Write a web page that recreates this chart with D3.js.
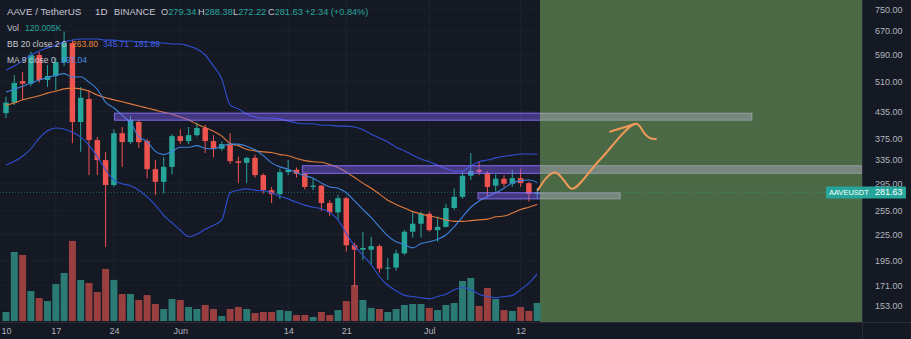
<!DOCTYPE html>
<html>
<head>
<meta charset="utf-8">
<script src="https://cdn.jsdelivr.net/npm/d3@7"></script>
<style>
  html, body { margin: 0; padding: 0; background: #151924; }
  svg { display: block; }
  text { font-family: "Liberation Sans", Arial, sans-serif; }
</style>
</head>
<body>
<svg id="chart" width="911" height="339"></svg>
<script>
// AAVE / TetherUS daily candles, 11 May – 14 Jul 2021
const firstDay = "2021-05-11T00:00:00Z";
const dayAfterLast = "2021-07-15T00:00:00Z";

const opens  = [431,456,512,505,589,515,526,567,628,411,465,373,335,293,387,369,411,371,319,298,323,381,371,383,398,371,356,365,333,330,339,309,285,279,314,318,311,290,292,266,253,273,212,207,207,211,187,188,203,228,238,251,230,234,259,275,308,318,313,292,303,295,304,296,279.34];
const highs  = [471,529,538,600,600,558,580,668,640,496,488,379,350,395,400,425,416,375,335,340,385,395,400,410,405,383,370,387,341,341,345,312,290,320,335,322,313,304,293,270,278,275,215,228,222,213,198,207,230,253,254,254,247,265,288,314,348,332,316,310,309,318,320,298,288.38];
const lows   = [420,450,462,498,508,496,488,555,367,350,309,309,210,290,323,365,358,304,278,280,310,365,365,380,348,340,352,328,296,296,305,280,266,272,309,305,286,285,255,248,243,205,170,196,191,183,176,185,201,221,221,228,216,233,256,272,301,309,275,283,290,290,290,268,272.22];
const closes = [456,507,505,589,515,526,567,628,411,468,373,335,293,387,369,416,369,319,298,323,381,371,383,398,371,356,365,333,330,339,309,285,279,314,318,311,290,292,266,253,273,212,207,209,211,187,188,203,228,238,251,230,234,259,275,308,316,314,290,303,295,304,296,279.29,281.63];
// volume in thousands of AAVE
const volumes = [60,460,440,200,153,133,247,320,534,274,253,193,347,274,180,180,140,173,113,80,147,140,93,80,107,80,33,80,93,80,53,60,60,73,67,40,40,27,60,40,73,133,240,140,87,80,60,80,107,113,113,87,73,107,120,267,287,100,220,147,73,67,93,67,120.005];

// Bollinger Bands (20, 2) and 9-day moving average
const bbUpper = [543,555,571,589,602,612,621,632,638,642,642,642,638,638,635,635,632,632,628,628,625,625,618,608,589,555,518,450,441,429,422,420,420,418,413,409,407,407,404,404,402,402,400,394,385,377,369,359,352,344,337,332,326,320,316,316,325,332,335,339,342,344,346,346,345.71];
const bbBasis = [450,455,463,468,473,480,485,491,493,491,485,475,468,463,458,453,448,443,438,433,429,422,416,406,399,391,381,366,362,355,352,350,349,345,343,338,334,332,331,327,322,314,305,296,288,279,270,264,259,254,251,248,246,243,241,241,242,243,244,247,248,252,257,260,263.80];
const bbLower = [326,333,342,356,377,392,398,396,389,379,363,341,318,301,295,292,285,275,263,249,239,230,222,225,231,236,243,281,285,287,285,284,281,276,272,267,263,260,258,253,243,226,211,201,191,179,171,166,162,161,160,159,161,163,167,169,167,163,161,160,161,162,167,173,181.89];
const ma9     = [483,490,498,507,515,522,528,533,523,524,509,490,457,443,426,409,380,370,351,345,351,359,359,362,357,356,361,365,365,361,354,343,330,323,319,313,308,304,296,290,288,281,269,257,246,234,223,216,213,209,214,216,219,224,234,247,260,269,275,281,288,296,300,301,297.04];

// axis ticks
const priceTicks = [750,670,590,510,435,375,335,295,255,225,195,171,153];
const dateTicks = ["2021-05-10","2021-05-17","2021-05-24","2021-06-01","2021-06-14","2021-06-21","2021-07-01","2021-07-12"];
const dateTickLabels = ["10","17","24","Jun","14","21","Jul","12"];

// drawn price zones
const zoneStarts = ["2021-05-24T02:00:00Z","2021-06-15T17:00:00Z","2021-07-06T21:00:00Z"];
const zoneEnds   = ["2021-08-08T21:00:00Z","2021-08-31T00:00:00Z","2021-07-24T00:00:00Z"];
const zoneLows   = [415, 312, 272];
const zoneHighs  = [431, 325, 281];

// projection period and hand-drawn path
const forecastStart = "2021-07-14T08:00:00Z";
const forecastEnd   = "2021-08-31T00:00:00Z";
const pathTimes  = ["2021-07-14T02:00:00Z","2021-07-15T02:00:00Z","2021-07-15T22:00:00Z","2021-07-16T12:00:00Z","2021-07-17T07:00:00Z","2021-07-18T05:00:00Z","2021-07-21T14:00:00Z","2021-07-25T22:00:00Z","2021-07-27T00:00:00Z","2021-07-27T14:00:00Z","2021-07-28T07:00:00Z"];
const pathPrices = [285, 304, 313, 311, 299, 287, 336, 407, 385, 377, 375];
const headTimes  = ["2021-07-22T19:00:00Z","2021-07-24T05:00:00Z","2021-07-25T22:00:00Z"];
const headPrices = [390, 398, 407];

// ---------------------------------------------------------------
const W = 911, H = 339, plotR = 862, plotB = 322;
const UP = "#26a69a", DOWN = "#ef5350";
const svg = d3.select("#chart");

const dates = d3.utcDay.range(new Date(firstDay), new Date(dayAfterLast));
const x = d3.scaleUtc()
  .domain([new Date("2021-05-10T06:40:00Z"), new Date("2021-08-22T03:10:00Z")])
  .range([0, plotR]);
const y = d3.scaleLog().domain([153, 750]).range([306, 10]);
const yVol = d3.scaleLinear().domain([0, 600]).range([321, 231]);
const dayW = x(dates[1]) - x(dates[0]);
const xSplit = x(new Date(forecastStart));

svg.append("rect").attr("width", W).attr("height", H).attr("fill", "#151924");

const defs = svg.append("defs");
defs.append("clipPath").attr("id", "plot")
  .append("rect").attr("width", plotR).attr("height", plotB);
defs.append("clipPath").attr("id", "history")
  .append("rect").attr("width", xSplit).attr("height", plotB);
defs.append("clipPath").attr("id", "future")
  .append("rect").attr("x", xSplit).attr("width", plotR - xSplit).attr("height", plotB);
const plot = svg.append("g").attr("clip-path", "url(#plot)");

// grid
plot.append("g").selectAll("line").data(priceTicks).join("line")
  .attr("x1", 0).attr("x2", plotR)
  .attr("y1", d => y(d)).attr("y2", d => y(d))
  .attr("stroke", "#1c2130").attr("stroke-width", 1);
plot.append("g").selectAll("line").data(dateTicks).join("line")
  .attr("x1", d => x(new Date(d))).attr("x2", d => x(new Date(d)))
  .attr("y1", 0).attr("y2", plotB)
  .attr("stroke", "#1c2130").attr("stroke-width", 1);

// projection period background
plot.append("rect")
  .attr("x", xSplit)
  .attr("width", x(new Date(forecastEnd)) - xSplit)
  .attr("y", 0).attr("height", plotB)
  .attr("fill", "#4c6946");

// volume
const isUp = i => closes[i] >= opens[i];
plot.append("g").selectAll("rect").data(volumes).join("rect")
  .attr("x", (d, i) => x(dates[i]) - dayW * 0.42)
  .attr("width", dayW * 0.84)
  .attr("y", d => yVol(d))
  .attr("height", d => yVol(0) - yVol(d))
  .attr("fill", (d, i) => isUp(i) ? "#2b7a73" : "#9a3f40");

// last-price line
const last = closes.length - 1;
plot.append("line")
  .attr("x1", 0).attr("x2", plotR)
  .attr("y1", y(closes[last])).attr("y2", y(closes[last]))
  .attr("stroke", UP).attr("stroke-opacity", 0.55)
  .attr("stroke-dasharray", "1,2");

// candles
const bodyW = dayW * 0.66;
const candles = plot.append("g").selectAll("g").data(closes).join("g");
candles.append("line")
  .attr("x1", (d, i) => x(dates[i])).attr("x2", (d, i) => x(dates[i]))
  .attr("y1", (d, i) => y(highs[i])).attr("y2", (d, i) => y(lows[i]))
  .attr("stroke", (d, i) => isUp(i) ? UP : DOWN).attr("stroke-width", 1);
candles.append("rect")
  .attr("x", (d, i) => x(dates[i]) - bodyW / 2)
  .attr("width", bodyW)
  .attr("y", (d, i) => y(Math.max(opens[i], closes[i])))
  .attr("height", (d, i) => Math.max(1, Math.abs(y(opens[i]) - y(closes[i]))))
  .attr("fill", (d, i) => isUp(i) ? UP : DOWN);

// indicator lines
const lineOf = vals => d3.line().x((d, i) => x(dates[i])).y(d => y(d)).curve(d3.curveMonotoneX)(vals);
plot.append("path").attr("d", lineOf(bbUpper)).attr("fill", "none").attr("stroke", "#2f50d4").attr("stroke-width", 1.1);
plot.append("path").attr("d", lineOf(bbLower)).attr("fill", "none").attr("stroke", "#2f50d4").attr("stroke-width", 1.1);
plot.append("path").attr("d", lineOf(bbBasis)).attr("fill", "none").attr("stroke", "#e07b3c").attr("stroke-width", 1.1);
plot.append("path").attr("d", lineOf(ma9)).attr("fill", "none").attr("stroke", "#3d83dc").attr("stroke-width", 1.1);

// price zones: violet over the history, grey over the projection period
function drawZones(clipId, fill, stroke) {
  plot.append("g").attr("clip-path", `url(#${clipId})`)
    .selectAll("rect").data(zoneLows).join("rect")
    .attr("x", (d, i) => x(new Date(zoneStarts[i])))
    .attr("width", (d, i) => x(new Date(zoneEnds[i])) - x(new Date(zoneStarts[i])))
    .attr("y", (d, i) => y(zoneHighs[i]))
    .attr("height", (d, i) => y(zoneLows[i]) - y(zoneHighs[i]))
    .attr("fill", fill).attr("stroke", stroke).attr("stroke-width", 1);
}
drawZones("history", "rgba(130,100,255,0.42)", "rgba(140,115,255,0.9)");
drawZones("future", "rgba(172,172,195,0.45)", "rgba(185,185,205,0.55)");

// hand-drawn projection
const free = d3.line().x(d => x(new Date(d[0]))).y(d => y(d[1])).curve(d3.curveCatmullRom.alpha(0.5));
plot.append("path").attr("d", free(d3.zip(pathTimes, pathPrices)))
  .attr("fill", "none").attr("stroke", "#f09a5a").attr("stroke-width", 2)
  .attr("stroke-linecap", "round").attr("stroke-linejoin", "round");
plot.append("path").attr("d", free(d3.zip(headTimes, headPrices)))
  .attr("fill", "none").attr("stroke", "#f09a5a").attr("stroke-width", 2)
  .attr("stroke-linecap", "round");

// separators
svg.append("line").attr("x1", plotR + 0.5).attr("x2", plotR + 0.5).attr("y1", 0).attr("y2", H).attr("stroke", "#2a2e39");
svg.append("line").attr("x1", 0).attr("x2", W).attr("y1", plotB + 0.5).attr("y2", plotB + 0.5).attr("stroke", "#2a2e39");

// price axis
const yAxis = svg.append("g").attr("transform", `translate(${plotR},0)`)
  .call(d3.axisRight(y).tickValues(priceTicks).tickFormat(d3.format(".2f")).tickSize(0).tickPadding(13));
yAxis.select(".domain").remove();
yAxis.selectAll("text").attr("fill", "#b2b5be").attr("font-size", 9)
  .attr("font-family", "Liberation Sans, Arial, sans-serif");

// date axis
const xAxis = svg.append("g").attr("transform", `translate(0,${plotB})`)
  .call(d3.axisBottom(x).tickValues(dateTicks.map(d => new Date(d + "T00:00:00Z")))
    .tickFormat((d, i) => dateTickLabels[i]).tickSize(0).tickPadding(6));
xAxis.select(".domain").remove();
xAxis.selectAll("text").attr("fill", "#b2b5be").attr("font-size", 9)
  .attr("font-family", "Liberation Sans, Arial, sans-serif");
// keep the first label inside the left edge
xAxis.selectAll("text").filter((d, i) => i === 0)
  .attr("text-anchor", "start").attr("x", 1 - x(new Date(dateTicks[0] + "T00:00:00Z")));

// last price tag
const fmt = d3.format(".2f");
const tagY = y(closes[last]);
svg.append("rect").attr("x", 826).attr("y", tagY - 6).attr("width", 80).attr("height", 12)
  .attr("fill", UP).attr("rx", 1);
svg.append("text").attr("x", 829).attr("y", tagY + 3).attr("font-size", 7.5).attr("fill", "#ffffff").text("AAVEUSDT");
svg.append("text").attr("x", 875).attr("y", tagY + 3).attr("font-size", 9).attr("fill", "#ffffff").text(fmt(closes[last]));

// legend
const legend = svg.append("g");
const GREY = "#c4c7cf";
function seg(xp, yp, size, parts) {
  const t = legend.append("text").attr("x", xp).attr("y", yp).attr("font-size", size);
  parts.forEach(([s, c]) => t.append("tspan").attr("fill", c).text(s));
}
const chg = closes[last] - closes[last - 1];
const chgPct = chg / closes[last - 1] * 100;
seg(7, 15, 9.8, [["AAVE / TetherUS", GREY]]);
seg(95, 15, 9.8, [["1D", GREY]]);
seg(114, 15, 9.3, [["BINANCE", GREY]]);
seg(161, 15, 9.2, [["O", GREY], [fmt(opens[last]), UP]]);
seg(198, 15, 9.2, [["H", GREY], [fmt(highs[last]), UP]]);
seg(233, 15, 9.2, [["L", GREY], [fmt(lows[last]), UP]]);
seg(268, 15, 9.2, [["C", GREY], [fmt(closes[last]), UP]]);
seg(305, 15, 9.2, [[`${chg >= 0 ? "+" : ""}${fmt(chg)} (${chg >= 0 ? "+" : ""}${fmt(chgPct)}%)`, UP]]);
seg(7, 31, 8.5, [["Vol", GREY]]);
seg(25, 31, 8.5, [[d3.format(".3f")(volumes[last]) + "K", UP]]);
seg(7, 47, 8.5, [["BB 20 close 2 0", GREY]]);
seg(72, 47, 8.5, [[fmt(bbBasis[last]), "#f08a3c"]]);
seg(103, 47, 8.5, [[fmt(bbUpper[last]), "#4462e6"]]);
seg(134, 47, 8.5, [[fmt(bbLower[last]), "#4462e6"]]);
seg(7, 63, 8.5, [["MA 9 close 0", GREY]]);
seg(61, 63, 8.5, [[fmt(ma9[last]), "#4a8ee6"]]);
</script>
</body>
</html>
